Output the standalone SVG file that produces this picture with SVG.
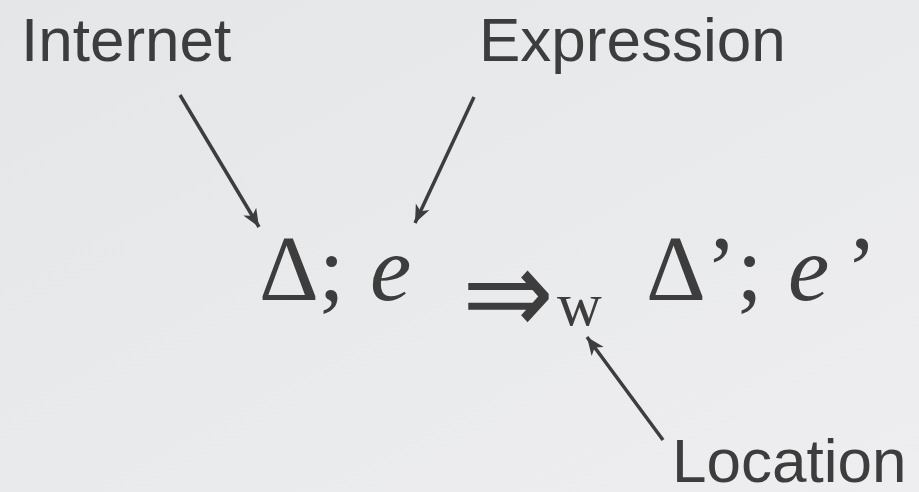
<svg xmlns="http://www.w3.org/2000/svg" width="919" height="492" viewBox="0 0 919 492">
<defs>
<linearGradient id="bg" x1="0" y1="0" x2="1" y2="1">
<stop offset="0" stop-color="#e4e6e8"/>
<stop offset="1" stop-color="#eeeef0"/>
</linearGradient>
<marker id="ah" markerUnits="userSpaceOnUse" markerWidth="20" markerHeight="18" refX="18" refY="9" orient="auto">
<path d="M0,1.5 L18,9 L0,16.5 L5,9 z" fill="#3d3d3d"/>
</marker>
</defs>
<style>
.lbl{font-family:"Liberation Sans",Arial,sans-serif;font-size:62px;fill:#3d3d3d}
.math{font-family:"Liberation Serif","Times New Roman",serif;font-size:93px;fill:#3d3d3d}
.sub{font-family:"Liberation Serif","Times New Roman",serif;font-size:62px;fill:#3d3d3d}
.conn{stroke:#3d3d3d;stroke-width:3.5;fill:none;marker-end:url(#ah)}
</style>
<rect width="919" height="492" fill="url(#bg)"/>
<g id="internet"><text class="lbl" x="21" y="61">Internet</text></g>
<g id="expression"><text class="lbl" x="479" y="61">Expression</text></g>
<g id="location"><text class="lbl" x="672" y="482">Location</text></g>
<g id="lhs"><text class="math" y="300"><tspan x="259">Δ;</tspan><tspan x="370" font-style="italic">e</tspan></text></g>
<g id="step"><text x="462" y="334" font-family="DejaVu Sans,sans-serif" font-size="120" fill="#3d3d3d" textLength="92" lengthAdjust="spacingAndGlyphs">⇒</text>
<text class="sub" x="557" y="325">w</text></g>
<g id="rhs"><text class="math" y="300"><tspan x="646">Δ’;</tspan><tspan x="788" font-style="italic">e</tspan><tspan x="846">’</tspan></text></g>
<g id="connectors">
<line class="conn" x1="180" y1="95" x2="259" y2="227"/>
<line class="conn" x1="474" y1="97" x2="415" y2="223"/>
<line class="conn" x1="663" y1="440" x2="587" y2="337"/>
</g>
</svg>
